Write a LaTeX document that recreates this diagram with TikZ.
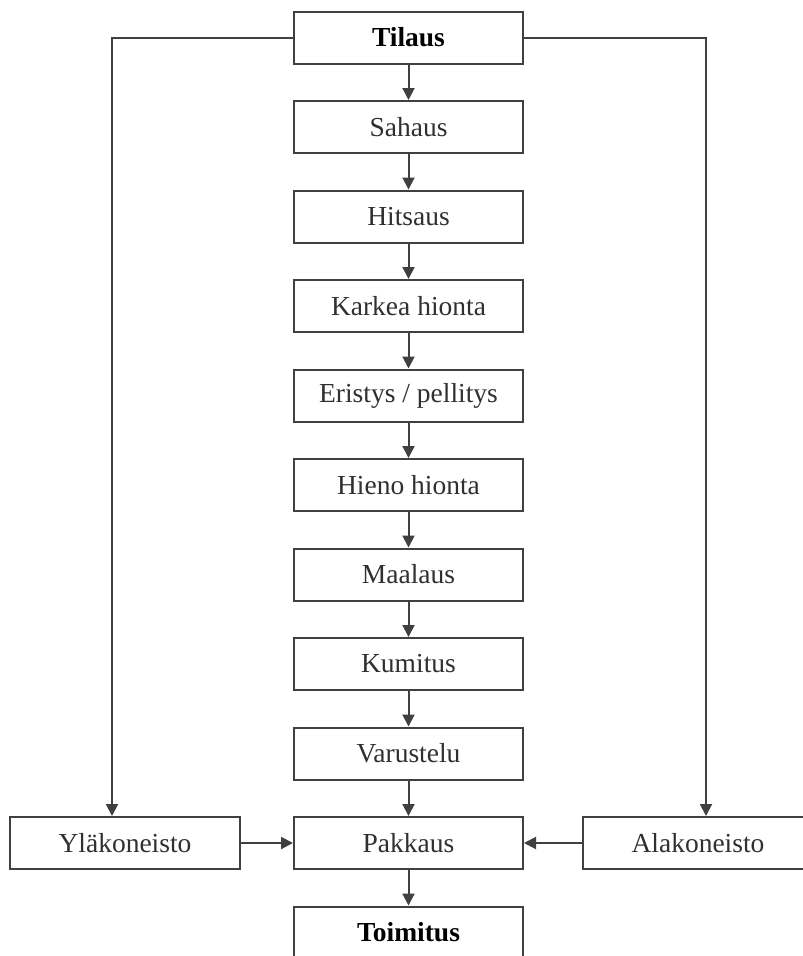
\documentclass[tikz,border=0pt]{standalone}
\usepackage{fontspec}
\setmainfont{Liberation Serif}
\usetikzlibrary{arrows.meta}
\definecolor{linegray}{HTML}{404040}
\definecolor{textgray}{HTML}{303030}
\tikzset{
  box/.style={draw=linegray, line width=2pt, rectangle, minimum width=229pt,
    minimum height=52pt, inner sep=0pt, text=textgray,
    font=\fontsize{27.5}{33}\selectfont},
  strong/.style={font=\fontsize{27.5}{33}\selectfont\bfseries, text=black},
  arr/.style={draw=linegray, line width=2pt,
    -{Triangle[length=12pt,width=12pt]}}
}
\begin{document}
\begin{tikzpicture}[x=1pt,y=1pt]
\useasboundingbox (0,0) rectangle (803,-956);
\fill[white] (0,0) rectangle (803,-956);
% main production chain
\node[box,strong] (tilaus)  at (408.5,-37.5) {Tilaus};
\node[box] (sahaus)   at (408.5,-127)   {Sahaus};
\node[box] (hitsaus)  at (408.5,-216.5) {Hitsaus};
\node[box] (karkea)   at (408.5,-306)   {Karkea hionta};
\node[box] (eristys)  at (408.5,-395.5) {Eristys / pellitys};
\node[box] (hieno)    at (408.5,-485)   {Hieno hionta};
\node[box] (maalaus)  at (408.5,-574.5) {Maalaus};
\node[box] (kumitus)  at (408.5,-664)   {Kumitus};
\node[box] (varustelu) at (408.5,-753.5) {Varustelu};
\node[box] (pakkaus)  at (408.5,-843)   {Pakkaus};
\node[box,strong] (toimitus) at (408.5,-932.5) {Toimitus};
% side assemblies
\node[box,minimum width=230pt] (ylak) at (125,-843) {Yläkoneisto};
\node[box,minimum width=230pt] (alak) at (698,-843) {Alakoneisto};
% chain arrows
\foreach \a/\b in {tilaus/sahaus, sahaus/hitsaus, hitsaus/karkea, karkea/eristys,
  eristys/hieno, hieno/maalaus, maalaus/kumitus, kumitus/varustelu,
  varustelu/pakkaus, pakkaus/toimitus}
  \draw[arr] (\a.south) -- (\b.north);
% branches from the order
\draw[arr] (tilaus.west) -| ([xshift=-13pt]ylak.north);
\draw[arr] (tilaus.east) -| ([xshift=8pt]alak.north);
\draw[arr] (ylak.east) -- (pakkaus.west);
\draw[arr] (alak.west) -- (pakkaus.east);
\end{tikzpicture}
\end{document}
